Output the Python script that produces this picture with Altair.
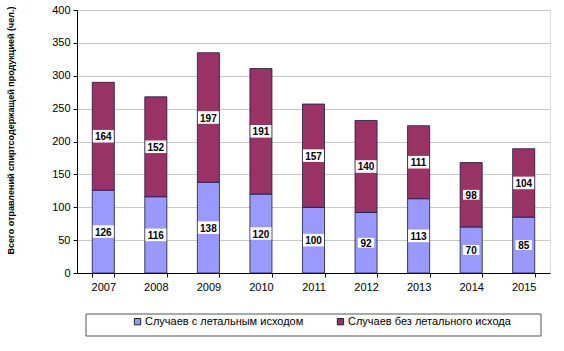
import altair as alt
import pandas as pd

years = ["2007", "2008", "2009", "2010", "2011", "2012", "2013", "2014", "2015"]
fatal = [126, 116, 138, 120, 100, 92, 113, 70, 85]
nonfatal = [164, 152, 197, 191, 157, 140, 111, 98, 104]
series = ["Случаев с летальным исходом", "Случаев без летального исхода"]
colors = ["#9999FF", "#993366"]
yticks = [0, 50, 100, 150, 200, 250, 300, 350, 400]

rows = []
for y, a, b in zip(years, fatal, nonfatal):
    rows.append({"year": y, "series": series[0], "order": 0, "value": a, "y0": 0, "y1": a})
    rows.append({"year": y, "series": series[1], "order": 1, "value": b, "y0": a, "y1": a + b})
df = pd.DataFrame(rows)
df["mid"] = (df["y0"] + df["y1"]) / 2
df["label"] = df["value"].astype(str)
df["boxsize"] = df["label"].str.len().map({1: 120, 2: 270, 3: 440})

W, H = 473, 263
FONT = "Liberation Sans"
YTITLE = "Всего отравлений спиртсодержащей  продукцией (чел.)"

xaxis = alt.Axis(labelAngle=0, tickBand="extent", labelFontSize=11,
                 labelColor="#000", domainColor="#000", tickColor="#000",
                 tickSize=4, labelPadding=4, labelFont=FONT)
yaxis = alt.Axis(values=yticks, tickCount=9, labelFontSize=11, labelColor="#000",
                 domainColor="#000", tickColor="#000", tickSize=4,
                 gridColor="#c8c8c8", labelPadding=3, labelFont=FONT,
                 titleFont=FONT, titleFontSize=9, titleFontWeight="bold",
                 titleColor="#000", titlePadding=36, titleY=120)
yscale = alt.Scale(domain=[0, 400], nice=False)
xscale = alt.Scale(paddingInner=0.58, paddingOuter=0.29)

bars = alt.Chart(df).mark_bar(stroke="#1a1a40", strokeWidth=0.8).encode(
    x=alt.X("year:N", title=None, sort=years, scale=xscale, axis=xaxis),
    y=alt.Y("y0:Q", title=YTITLE, scale=yscale, axis=yaxis),
    y2="y1:Q",
    color=alt.Color("series:N", sort=series,
                    scale=alt.Scale(domain=series, range=colors),
                    legend=alt.Legend(orient="none", direction="horizontal", title=None,
                                      legendX=55, legendY=306, symbolType="square",
                                      symbolSize=40, symbolStrokeColor="#222",
                                      symbolStrokeWidth=1, labelFontSize=11,
                                      labelFont=FONT, labelColor="#000", labelLimit=400,
                                      columnPadding=31, labelOffset=2)),
    order="order:Q",
)

boxes = alt.Chart(df).mark_point(
    shape="M-1,-0.6H1V0.6H-1Z", filled=True, fill="white", opacity=1, strokeWidth=0
).encode(
    x=alt.X("year:N", title=None, sort=years, scale=xscale, axis=xaxis),
    y=alt.Y("mid:Q", title=YTITLE, scale=yscale, axis=yaxis),
    size=alt.Size("boxsize:Q", scale=None, legend=None),
)

texts = alt.Chart(df).mark_text(fontSize=10, fontWeight="bold", font=FONT, color="#000",
                                baseline="middle", dy=1).encode(
    x=alt.X("year:N", title=None, sort=years, scale=xscale, axis=xaxis),
    y=alt.Y("mid:Q", title=YTITLE, scale=yscale, axis=yaxis),
    text="label:N",
)

frame = alt.Chart(pd.DataFrame({"k": [0]})).mark_rect(
    fill="white", stroke="#555", strokeWidth=1, clip=False
).encode(
    x=alt.value(9), x2=alt.value(464), y=alt.value(304), y2=alt.value(326)
)

chart = alt.layer(frame, bars, boxes, texts).properties(
    width=W, height=H,
    autosize=alt.AutoSizeParams(type="none"),
    padding={"left": 77, "top": 10, "right": 14, "bottom": 78},
).configure_view(stroke="#b0b0b0", strokeWidth=1).configure(background="white")

chart.save("out.html", embed_options={"renderer": "svg", "actions": False})
